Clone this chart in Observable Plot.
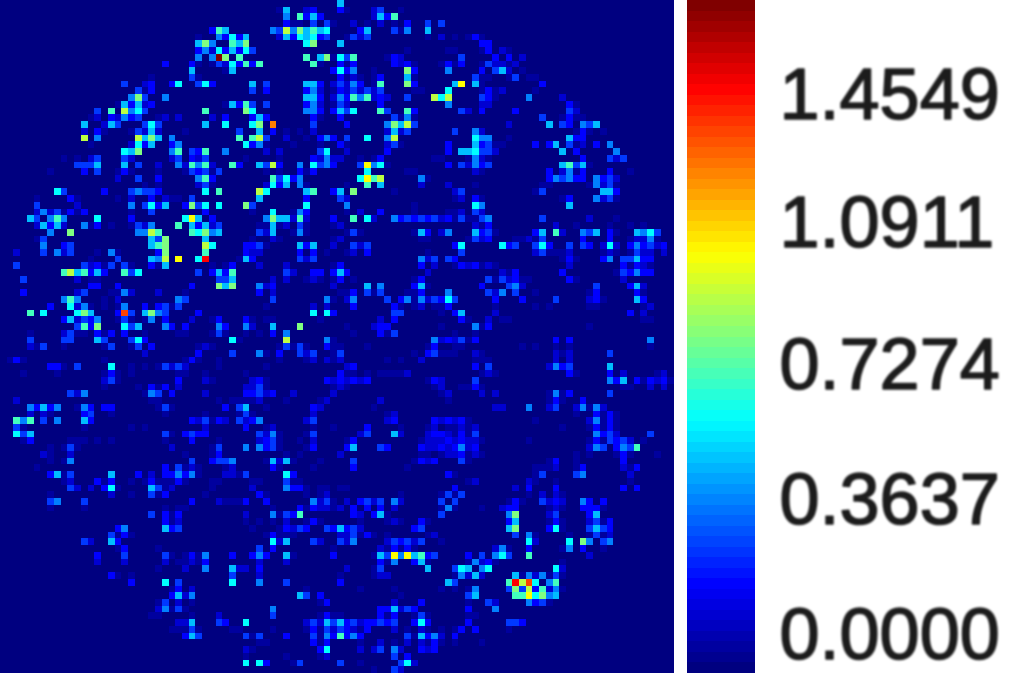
<!DOCTYPE html>
<html>
<head>
<meta charset="utf-8">
<script src="https://cdn.jsdelivr.net/npm/d3@7"></script>
<script src="https://cdn.jsdelivr.net/npm/@observablehq/plot@0.6"></script>
<style>
html,body{margin:0;padding:0;background:#fff;overflow:hidden}
#chart{display:flex;width:1024px;height:673px}
#chart svg{display:block;flex:none}
#bar text{filter:blur(1.1px)}
</style>
</head>
<body>
<div id="chart"></div>
<script>
const maxValue = 1.4549;
const tickLabels = ["0.0000","0.3637","0.7274","1.0911","1.4549"];
const tickLabelAt = [0, 0.3637, 0.7274, 1.11, 1.4549];
const levelCodes = "abcdefghijklmno";
const levelFractions = [.03,.08,.125,.18,.25,.31,.375,.44,.5,.56,.625,.75,.81,.875,1];
const jetStops = [0,.125,.375,.625,.875,1];
const jetColors = ["#000080","#0000ff","#00ffff","#ffff00","#ff0000","#800000"];
// one string per image row: column number + intensity level code
const rowCells = [
"50f",
"41a 42f 45b 46c 50c 51a 55b 56d 59a",
"42e 44h 45c 46f 47c 55b 56f 57c 58h",
"42c 43a 44a 46d 48d 49a 52b 54a 56b 58a 60c 63d 65d",
"31c 32h 33f 40e 41d 42j 43e 44i 45f 46h 47f 48g 53c 54f 58d 59a 60e 63f",
"29a 32e 33c 34g 35c 36f 41b 42f 43c 44g 45f 46g 47c 48d 51a 52d 53b 54d 63a 65b 67a 69a 70c 71a",
"29f 30i 31e 34h 35f 36i 45g 46i 50f 71c 72c",
"29c 30e 31b 32g 33c 34f 35c 36g 37d 60a 66a 67a 71a 72c 74b 75a",
"29e 31e 32o 33i 35h 45h 47f 48i 49a 50g 51d 52h 57a 58c 59b 68d 73c 75c 77b",
"24c 28c 29a 31a 32d 33b 34g 35c 36h 37c 38h 46h 47a 50c 51a 52c 58c 59b 60c 61a 65a 66c 67a 68c 71a 72d 73b 74b 75a 76b",
"28f 33a 34f 49c 50g 51c 52e 55a 60i 61c 66e 71c 73d 74f 75b 77a",
"22a 28d 29a 50c 51a 52b 53a 55a 56c 60f 61a 70d 71a 72a 75a 76d 78a 79a",
"18d 21b 22c 25c 26g 29d 30g 31c 37f 39d 45f 46f 47c 49b 50d 51b 52e 53c 55a 56h 60i 61c 67f 68k 70f 71a 80c",
"20d 21a 22c 37d 39c 45c 46e 47b 49a 50c 51b 52d 53b 54d 55b 56d 61a 62a 66g 71a 72c 73a 74b 79a",
"19e 20i 21d 24e 45f 46f 47c 49b 50e 51c 52h 53e 54h 55b 56c 57b 60d 64j 65g 66j 71d 72c 73a 78e 83b",
"17a 18f 19c 20f 21b 22c 33a 34f 35c 36h 37d 39d 45c 46e 47b 49a 50d 51b 56c 66e 71b 72b 84c 85a",
"14d 16h 18j 19e 20g 21d 30h 36i 37g 45e 46e 47c 49c 50f 51d 52g 56h 57d 60h 61c 68d 69b 71c 76c 84d 85b",
"13a 14b 16c 17b 18e 19c 20d 23a 24b 26b 31b 33c 37c 38f 39c 46c 47a 50c 58d 59a 60e 61a 80d 83a 84c 85a 86a",
"12f 15b 16f 17d 21d 22g 23d 30f 33g 37g 38i 40l 46d 51c 57e 58i 59f 60j 61d 75b 81f 83d 84c 86e 87d 88f",
"12b 14c 15a 19a 20d 21b 22f 23b 27a 35d 38f 40c 42a 44a 46b 57b 58f 59b 60d 67d 70e 71b 85a 86c 87a 89a",
"12j 14e 20j 21f 22i 23f 25e 35h 37h 38j 39d 42b 45a 47c 48e 49c 51d 54g 57e 58j 70g 71e 72e 75a 84f 85c 86c",
"13a 19b 20g 21c 22f 25c 26e 36g 37c 38e 39a 43a 47a 50c 51a 57b 58d 59a 66c 70f 71c 72d 73a 74a 79c 81c 82f 84d 85a 86b 88c 90e",
"18g 19f 20i 25e 26h 28d 29c 30h 33e 39b 41b 47d 48g 51b 57c 66c 68f 69f 70g 71d 72d 73b 83f 85c 91e",
"9a 11a 13b 14d 18d 19b 25b 26d 28c 29b 30d 36a 41a 46c 47b 48e 49b 50b 53a 55a 56c 64a 65a 69a 70e 71b 72a 86c 90d 91b 92d",
"11d 12d 13d 14f 18f 20d 23b 26e 27b 28h 29e 30h 31b 34h 35c 38f 39d 40j 41c 44e 46g 47d 48e 49c 53d 54k 55e 56g 57a 66c 68d 69b 70e 71c 72d 83f 84h 85d 86f 87a",
"7a 12c 14d 17a 18c 19a 23a 27a 28d 29c 30d 31a 32d 39a 41a 44c 45a 46c 54g 60a 61a 70b 71a 81c 83b 84e 85a 86c 90c 93a",
"17b 20d 23c 29e 30h 31c 40h 41d 42g 43c 44e 53g 54k 55h 56j 62e 63a 81c 82e 83d 84e 85c 86c 88e 89c 90d 91b",
"21a 23a 29b 30d 31a 39b 40g 41c 42f 44e 45a 51a 54h 56f 62b 66b 70a 80a 81a 87a 88e 89b 90d 91a",
"8g 9d 15c 19d 20e 21d 22d 23c 30g 32h 38j 39g 45f 46h 49c 50f 52i 58a 67b 68d 79a 80d 89f 90f 91c",
"5a 10c 11a 17a 19b 22c 24b 25a 26a 28d 38f 45c 50d 51b 67a 68b 70c 71a 83a 84c 88e 89b 90d 91a",
"5d 11b 19e 21d 22g 23c 24f 27c 28i 29d 30g 32g 36i 37d 45g 51e 61a 70g 71e 84f",
"5b 6e 7b 8d 9a 10c 11a 12c 19a 22d 30c 37a 40g 43a 44e 45c 51a 53b 56c 61a 66a 67a 68b 70d 71b",
"4f 5d 7e 8h 9e 14g 19c 27g 28k 29f 31c 39e 40i 41f 42f 43b 44h 45b 49c 52h 54g 55b 58e 59c 60d 61c 62d 63c 64d 65b 66c 67a 68d 69a 70a 71d 72e 80d 87b 91a",
"5b 6f 7c 8f 9b 12e 13a 14c 16a 19a 20d 21b 22e 26h 28f 29c 30f 31b 32d 38a 39a 40f 41a 42b 44d 45a 49a 50b 70b 71a 72c 82b 85a 90a 93a 95a",
"7e 10i 20e 21e 22j 23h 28h 29g 30i 31e 32f 38d 39b 40f 43a 44e 45a 51a 52d 53a 61a 62f 63c 65b 66e 70f 71c 72d 73a 79c 80f 82h 83b 86e 87d 88f 90c 91a 94f 95e 96g 97d",
"5a 6d 22f 23d 24i 30f 37a 40b 41a 49a 50b 62a 63a 69a 70d 71b 72c 76a 77a 78b 79a 80d 86c 90c 93a 94b 95b 96e 97a",
"6e 9c 10d 22f 23h 24i 30j 31g 36c 37c 38d 39a 44f 45c 46f 49b 52d 53b 54d 67c 68g 74g 75c 76d 79d 80g 81c 84d 86d 87c 89b 90g 91b 93c 94e 95c 96d 97b 98c",
"2b 6d 8e 9b 10d 14a 16e 17a 23c 24i 30h 36c 37b 38b 44c 46c 48a 51a 52b 54c 63a 68d 79b 80d 81a 82a 83a 84b 89a 90b 91a 93a 94d 95b 96b 98b",
"13a 17d 22f 23e 24j 26k 29g 30n 35a 36f 37c 44d 45b 46d 62e 63b 64d 66d 67c 83a 84c 85a 89c 90e 92d 93d 94f 95c 96c",
"2d 12d 13b 14c 15a 16d 18d 19a 22c 23a 24f 31a 33a 34c 38b 42b 49a 50c 62c 64b 67a 68c 69b 70c 71a 72b 73a 84b 92c 93a 94c 95b 96a",
"9h 10j 11f 12h 13c 14f 15c 18h 19d 20g 29d 31c 32f 33c 34h 42d 43b 46c 47c 49c 50f 51c 63b 74b 75a 76c 83c 91a 92d 93c 94e 95c 96c",
"3d 11b 13a 14a 32d 33d 34f 40b 42b 45a 46b 47a 49a 50c 52a 61a 62c 72d 73a 74d 75b 76c 77a 78a 84c 85a 92b",
"13c 14c 17c 28c 32i 33f 34i 38e 39b 40c 49b 54f 56e 61c 62f 63a 71c 75d 76e 77b 88d 93c 94f 95b",
"3c 11b 12d 16a 17a 18e 19b 23b 27a 38c 40b 50a 51a 52c 54d 55a 56d 60a 61a 62c 66e 72d 73b 74e 76d 79a 87a 88c 94c 95a",
"9e 10h 11e 15a 17b 26e 27d 40d 48e 49a 51b 52e 57d 59c 60e 61a 62e 63b 64d 65c 66g 67d 73c 77c 82d 87b 88c 89a 94f 95c",
"7c 10g 11b 12e 13a 15a 17a 18e 21c 23c 24d 25a 26d 39a 46b 48b 52c 58c 59a 61a 62b 64a 65a 66c 73a 79a 81a 87a 88a 95a 96b",
"4h 6g 11g 12i 13f 17c 18m 19d 21f 22i 23e 24d 29c 46g 48g 49c 58d 59d 65a 67c 68f 73b 93c 95b",
"9c 10f 11b 12d 13c 14e 17a 18d 19a 21a 22e 24c 28b 31a 32c 36c 37a 39a 40a 47a 56b 58c 68c 69a 72b 74a 75a 95a 96a",
"11d 12h 13c 14i 18g 19d 20f 24e 25c 27c 32e 33c 36e 37b 40f 44i 51a 55b 56c 57c 65a 70e 71a 72c 87a",
"4a 9b 10d 11a 12a 14c 15a 16c 18c 21a 26a 27a 31a 32d 33a 36a 38a 40c 42e 52a 56c 57a 58d 67a 70a",
"4d 9d 10d 14f 15d 19d 20g 21c 34g 35a 42j 48e 49a 64e 65b 66c 67b 68d 69a 70c 82c 84c 96e",
"4b 5a 6d 9a 15a 16d 19a 20d 22c 29a 30b 31a 41a 42d 43a 44d 45a 48c 49a 50a 54a 63a 64c 67a 68a 77a 79a 82a 84a 96a",
"21b 29c 34d 38e 39a 41c 44d 45b 46d 49a 50d 61a 63c 64d 65a 66a 67a 70b 71a 82b 83a 84b 90d",
"1a 2c 3a 15a 27a 28c 29a 32a 41a 45a 46b 48b 49a 50b 57a 59a 62b 70a 71a 72a 82b 84b",
"7c 8c 9a 11d 16g 19a 21a 23a 24d 25b 26d 27b 32a 39a 51b 52c 70c 72d 81b 82e 83c 84d 90f",
"3a 8a 15a 16c 17a 19a 26a 27a 30a 36a 50c 51a 52a 54a 56a 57a 58a 59a 60b 71a 72b 73a 84c 85a 90c 92b 97a 98b",
"15b 16d 17a 26c 30b 31a 37b 38c 39a 48c 49b 50c 51b 52c 53b 54c 63a 64c 65b 70d 90e 91c 92f 94c 95a 96c 97b 98c 99a",
"15a 20a 22c 23a 24c 26b 36b 37b 38d 39a 49a 50b 51a 64a 65b 68a 69a 70c 71a 92a 93a 96b 98b",
"10d 11b 12e 21a 22e 23d 25c 30b 36c 37c 38d 39b 40c 43b 49b 65a 66b 71b 73b 81a 82e 83a 84c 90d",
"2b 22a 23a 32a 34a 35a 36a 37a 38b 42a 47a 48b 56b 66a 81a 82c 83a 86c",
"4e 5c 6f 7c 8e 11a 12e 13c 15c 16c 23a 24d 25a 33c 35d 36f 39a 46c 47b 55a 73b 74b 78e 81b 82d 85b 86e 87a 88e 89b",
"4b 6b 7a 12c 13d 16a 24a 30a 35a 36d 37a 46b 57a 58b 85a 88c 89a 90c 91a",
"2h 3e 4h 6d 8e 12f 13c 28c 29b 30d 31a 32c 33b 35d 36b 37c 38e 45b 46d 57b 58c 64c 65b 66c 67b 68c 69a 79a 87b 88e 89a 90c 91a",
"2d 3a 12a 19a 21a 30b 36c 39a 40b 46a 49a 54c 59a 63a 64b 66a 67a 68b 69a 70b 83a 87a 88c 89a 90c 91a",
"2g 3d 4f 24d 25a 27c 28d 29c 30c 38d 39b 40e 41a 45a 46d 53b 54d 58f 59b 63b 64c 65c 66b 67a 68c 69a 70d 88e 89c 90d 91b 96d",
"3a 4c 10a 11a 12a 14a 16a 24a 28c 32a 38b 39c 40d 41a 44a 46b 51a 52c 62a 63b 64b 65b 66c 67b 68c 69b 70b 71a 78a 87a 88c 89a 90d 91c 92d 93b 95a",
"7a 9a 10d 11a 25b 31a 32d 36e 38e 39c 40d 41a 45a 46c 51c 52f 56d 57c 62c 63b 64b 65c 66b 67c 68e 69b 70c 87b 88e 89d 91c 92e 93d 94h",
"6b 7a 10b 27a 31a 32c 42a 44a 50b 62a 63a 65a 66b 67b 68c 69a 70b 71a 85a 87a 91a 92c 93a 97a",
"7a 9a 10e 28d 31c 32d 33d 34e 39a 40f 41b 42f 43a 47a 52d 61a 62c 63b 64c 68d 69a 81a 82c 85a 92c",
"5a 24c 26d 27a 28b 29a 33a 34b 40c 41a 46a 52c 60a 79a 80a 81a 82b 85a 86c 92b 93a 94c",
"7c 8f 9a 10d 16f 20c 22b 24c 25c 26e 27c 28e 29a 33b 34b 35a 36d 42g 43c 66c 67a 79a 80d 85d 86e 93b",
"9a 10b 14c 15a 16c 19a 21a 22c 23a 24a 25a 26c 27a 31a 32a 37a 38a 42d 43a 44a 69a 70b 78b 79a 82a 93a",
"10d 11b 13b 15c 16g 17a 22f 23d 24a 25b 31a 37b 42e 43c 44c 45a 47a 48a 50a 51a 67c 76b 78c 82c 92c 94c",
"7a 16b 19a 22d 23a 24c 30a 38c 39a 45a 47a 48b 59a 65a 66d 67a 68d 78a 80b 82b 83a",
"7d 8e 12d 28c 32b 33a 34a 35a 36c 39c 46e 47b 48d 49a 51b 53c 54d 55b 56d 58e 59b 65d 67d 75a 76c 77a 80d 81b 82c 83b 86e 87c 89c",
"7a 12a 24a 26a 27a 40a 44c 45a 46c 47b 48b 49a 50b 52c 54c 56c 58b 65a 66e 67a 71a 74b 75c 76c 81a 82b 83a 86c 87c 88c 89a",
"22d 24c 25a 26c 36b 40e 41a 42d 43c 44h 52c 53b 55c 56f 57a 65d 75e 76i 81b 82d 87c 88f",
"24c 25a 26b 36a 38a 40a 42b 45a 46c 47a 53a 57a 58b 59a 62c 63a 75c 76f 81a 82c 83a 87b 88d 89a 90c",
"17c 18e 24f 25c 26d 37a 41a 42c 43b 44d 45c 48d 49c 50f 51c 52d 53b 61c 62d 75f 76i 81c 82g 83a 87d 88f 89d 90c",
"16d 17a 18c 19a 39a 40c 41a 42a 43a 50b 51b 52d 53a 54c 55a 57a 63a 64b 76d 78e 79a 84a 87a 88d 89a 90b",
"12d 13b 16f 17c 40g 41b 42f 46d 47b 50d 51b 52e 57b 58d 59c 60d 61b 62d 65a 78g 79b 84g 86i 87e 89d 90e",
"17a 18c 23a 38d 40c 49a 56b 57a 58c 59a 60c 61a 73b 74e 75a 78c 83a 84e 86c 89a",
"14c 18d 24d 25a 27a 28c 29a 30e 34c 37c 38e 39c 42f 43a 49c 55a 56f 57d 58k 59e 60k 61f 62h 63c 64d 69c 71d 73e 74g 75d 78h 87b",
"14b 18b 24b 26a 27a 28b 29a 30c 38b 42b 56c 57a 58e 61c 62f 63a 69a 70e 71b 72c 73a 83a",
"23a 27b 30e 34f 35b 36b 38c 51b 55a 56d 63f 67d 68g 69f 71e 72g 82g 83b",
"16c 17a 19a 34d 38b 50a 55a 56b 57b 67a 68e 69b 70f 71b 76f 77a 78e 79b 80e 81a 82d 83a",
"19c 24g 26d 34g 38e 42d 50c 66f 67d 75h 76n 77j 78m 79g 81e 82h",
"25a 26c 28b 45a 53a 58a 65a 67a 69a 70e 75d 76i 77d 78j 79c 80h 81b 82e 83a",
"25c 26f 27b 28e 44f 45d 47c 59a 69d 70f 76h 77h 78k 79g 80i 81e 82f",
"23a 24d 26b 28a 47a 48c 58b 62c 69a 72d 73b 78e 79c 80d 81a",
"23b 24e 25a 26d 27a 40e 56c 57c 58f 59b 60d 61c 69c 73e",
"22a 23a 28a 32b 40d 47a 48c 49a 50a 56c 57a 58c 61a 62d 63a 69a 70a",
"26b 27b 28f 32d 33c 36g 45b 46d 47b 48f 49d 50f 51c 52d 53b 54c 55c 56d 57c 58d 61c 62g 63c 69c 75d 76d 77c",
"25a 26a 27a 28d 29a 34a 35a 40a 45a 46c 47a 48d 49b 50d 51c 52b 53a 54c 58b 60a 62b 63a 65a 67a 68c 70c 75a",
"27c 28f 29d 36d 37a 38d 42c 46d 47a 48e 49c 50h 51c 52e 53c 60d 61a 62f 63c 64e 65b 67c",
"38a 39a 46c 47a 48c 53a 56b 58a 60b 62b 63a 64c 65a 67a 71a",
"36b 37a 47c 48g 53b 55b 56d 58e 59b 62c 63b 64c",
"36a 42a 47a 48b 58d 60c",
"36g 38g 39c 43a 44d 50d 53a 59d 60g 61b",
"55a 58d 59b"
];

const gridSize = 100;
const gridIndex = d3.range(gridSize);
const lookup = new Map();
rowCells.forEach((s, row) => s.split(" ").forEach(tok => {
  const col = parseInt(tok);
  const code = tok[tok.length - 1];
  lookup.set(row * gridSize + col, levelFractions[levelCodes.indexOf(code)] * maxValue);
}));
const cells = gridIndex.flatMap(row => gridIndex.map(col => ({row, col, value: lookup.get(row * gridSize + col) ?? 0})));

const colorScale = {
  type: "linear",
  domain: jetStops.map(s => s * maxValue),
  range: jetColors,
  interpolate: "rgb"
};

const heat = Plot.plot({
  width: 674, height: 673,
  margin: 0,
  x: {type: "band", domain: gridIndex, padding: 0, round: false, axis: null},
  y: {type: "band", domain: gridIndex, padding: 0, round: false, axis: null},
  color: colorScale,
  marks: [
    Plot.cell(cells, {x: "col", y: "row", fill: "value", shapeRendering: "crispEdges"})
  ]
});

// colour bar: 64 flat bands over the full height, labels placed on the y scale
const barLow = -0.1024, barHigh = 1.7108, barBands = 64;
const barY = d3.scaleLinear([0, barBands], [barLow, barHigh]);
const bands = d3.range(barBands).map(i => ({
  y1: barY(i), y2: barY(i + 1), value: i / (barBands - 1) * maxValue
}));
const labelRows = tickLabels.map((label, i) => ({label, at: tickLabelAt[i]}));
const bar = Plot.plot({
  width: 350, height: 673,
  margin: 0,
  x: {domain: [0, 1], range: [13, 81], axis: null},
  y: {domain: [barLow, barHigh], axis: null},
  color: colorScale,
  marks: [
    Plot.rectY(bands, {x1: 0, x2: 1, y1: "y1", y2: "y2", fill: "value", shapeRendering: "crispEdges"}),
    Plot.text(labelRows, {
      x: 1, y: "at", text: "label",
      dx: 24, textAnchor: "start", fontSize: 72,
      fontFamily: "'Liberation Sans', Arial, sans-serif", fill: "#1c1c1c",
      stroke: "#1c1c1c", strokeWidth: 1.6
    })
  ]
});
bar.id = "bar";
const chart = document.getElementById("chart");
chart.append(heat, bar);
</script>
</body>
</html>
